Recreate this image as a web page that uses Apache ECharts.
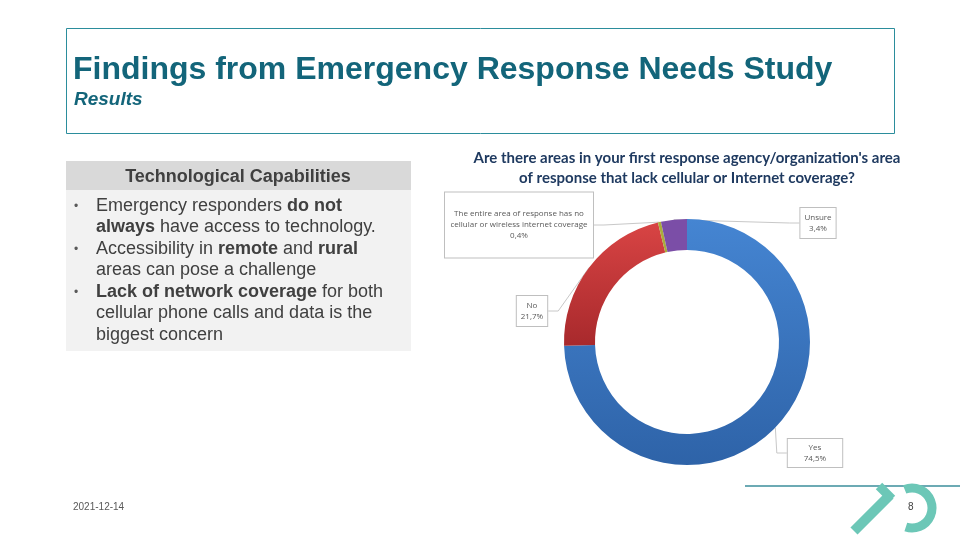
<!DOCTYPE html>
<html>
<head>
<meta charset="utf-8">
<script src="https://cdn.jsdelivr.net/npm/echarts@6/dist/echarts.min.js"></script>
<style>
  html, body { margin: 0; padding: 0; background: #ffffff; }
  #coverage_chart { width: 960px; height: 540px; }
</style>
</head>
<body>
<div id="coverage_chart"></div>
<script>
// survey answers, share of respondents (%)
var categories = ['Yes', 'No', 'The entire area of response has no\ncellular or wireless internet coverage', 'Unsure'];
var shares = [74.5, 21.7, 0.4, 3.4];

var bulletLines = [
	'{n|Emergency responders }{b|do not}',
	'{b|always}{n| have access to technology.}',
	'{n|Accessibility in }{b|remote}{n| and }{b|rural}',
	'{n|areas can pose a challenge}',
	'{b|Lack of network coverage}{n| for both}',
	'{n|cellular phone calls and data is the}',
	'{n|biggest concern}'
];

// where each callout box sits (label centre)
var labelSpots = [[815, 453], [532, 311], [519, 225], [818, 223]];

var coverage_chart = {};

coverage_chart.fmt = function(v) {
	return v.toFixed(1).replace('.', ',') + '%';
};

coverage_chart.init = function() {
	var chart = echarts.init(document.getElementById('coverage_chart'));

	var fills = [
		new echarts.graphic.LinearGradient(0, 0, 0, 1, [{ offset: 0, color: '#4585d2' }, { offset: 1, color: '#2e63a8' }]),
		new echarts.graphic.LinearGradient(0, 0, 0, 1, [{ offset: 0, color: '#d84444' }, { offset: 1, color: '#a8292c' }]),
		'#a9ad3c',
		'#7b4ea7'
	];

	var pieData = categories.map(function(name, i) {
		var item = { name: name, value: shares[i], itemStyle: { color: fills[i] } };
		if (i === 2) {
			item.label = { width: 134, padding: [16, 7], overflow: 'none' };
		}
		if (i === 0) {
			item.label = { padding: [3, 16] };
		}
		return item;
	});

	var bulletNodes = [];
	for (var k = 0; k < 3; k++) {
		bulletNodes.push({
			type: 'text',
			left: 74,
			top: [201, 244, 287][k],
			style: { text: '•', font: '12px "Liberation Sans", Arial', fill: '#595959' }
		});
	}

	var option = {
		backgroundColor: '#ffffff',
		title: {
			text: "Are there areas in your first response agency/organization's area\nof response that lack cellular or Internet coverage?",
			left: 687,
			top: 148,
			padding: 0,
			textAlign: 'center',
			textStyle: {
				fontFamily: 'Lato',
				fontWeight: 'bold',
				fontSize: 15,
				lineHeight: 20,
				color: '#1f3a60'
			}
		},
		graphic: [
			{
				type: 'rect',
				shape: { x: 66.5, y: 28.5, width: 828, height: 105 },
				style: { fill: 'none', stroke: '#2b8d9c', lineWidth: 1 }
			},
			{
				type: 'text',
				left: 73,
				top: 54,
				style: {
					text: 'Findings from Emergency Response Needs Study',
					font: 'bold 32px "Liberation Sans", Arial',
					fill: '#13657a'
				}
			},
			{
				type: 'text',
				left: 74,
				top: 90,
				style: {
					text: 'Results',
					font: 'italic bold 19px "Liberation Sans", Arial',
					fill: '#13657a'
				}
			},
			{
				type: 'rect',
				shape: { x: 66, y: 161, width: 345, height: 29 },
				style: { fill: '#d9d9d9' }
			},
			{
				type: 'rect',
				shape: { x: 66, y: 190, width: 345, height: 161 },
				style: { fill: '#f2f2f2' }
			},
			{
				type: 'text',
				x: 238,
				y: 177,
				style: {
					text: 'Technological Capabilities',
					font: 'bold 18px "Liberation Sans", Arial',
					fill: '#404040',
					align: 'center',
					verticalAlign: 'middle'
				}
			},
			{
				type: 'text',
				left: 96,
				top: 195,
				style: {
					text: bulletLines.join('\n'),
					lineHeight: 21.5,
					rich: {
						n: { font: '18px "Liberation Sans", Arial', fill: '#404040', lineHeight: 21.5 },
						b: { font: 'bold 18px "Liberation Sans", Arial', fill: '#404040', lineHeight: 21.5 }
					}
				}
			}
		].concat(bulletNodes).concat([
			{
				type: 'text',
				left: 73,
				top: 502,
				style: { text: '2021-12-14', font: '10px "Liberation Sans", Arial', fill: '#595959' }
			},
			{
				type: 'line',
				shape: { x1: 745, y1: 486, x2: 960, y2: 486 },
				style: { stroke: '#3b8e9b', lineWidth: 1.5 }
			},
			{
				type: 'line',
				shape: { x1: 854, y1: 531, x2: 890, y2: 495 },
				style: { stroke: '#6cc7b7', lineWidth: 10 }
			},
			{
				type: 'line',
				shape: { x1: 879, y1: 486, x2: 892, y2: 499 },
				style: { stroke: '#6cc7b7', lineWidth: 9 }
			},
			{
				type: 'arc',
				shape: { cx: 912, cy: 508, r: 20, startAngle: -Math.PI * 0.62, endAngle: Math.PI * 0.6, clockwise: true },
				style: { stroke: '#6cc7b7', lineWidth: 9, fill: 'none' }
			},
			{
				type: 'text',
				left: 908,
				top: 502,
				style: { text: '8', font: '10px "Liberation Sans", Arial', fill: '#404040' }
			}
		]),
		series: [{
			type: 'pie',
			center: [687, 342],
			radius: [92, 123],
			startAngle: 90,
			clockwise: true,
			avoidLabelOverlap: false,
			silent: true,
			label: {
				show: true,
				position: 'outside',
				formatter: function(p) {
					return p.name + '\n' + coverage_chart.fmt(p.value);
				},
				fontFamily: 'Open Sans',
				fontSize: 8,
				lineHeight: 11,
				color: '#595959',
				align: 'center',
				backgroundColor: '#ffffff',
				borderColor: '#bfbfbf',
				borderWidth: 1,
				padding: [4, 4]
			},
			labelLine: {
				show: true,
				length: 12,
				length2: 10,
				lineStyle: { color: '#c8c8c8', width: 1 }
			},
			labelLayout: function(params) {
				var spot = labelSpots[params.dataIndex];
				return { x: spot[0], y: spot[1], align: 'center', verticalAlign: 'middle' };
			},
			data: pieData
		}]
	};
	chart.setOption(option);
};

coverage_chart.init();
</script>
</body>
</html>
